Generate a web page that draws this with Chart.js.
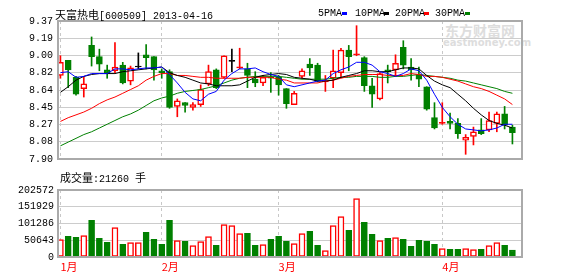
<!DOCTYPE html>
<html>
<head>
<meta charset="utf-8">
<script src="https://cdn.jsdelivr.net/npm/chart.js@4"></script>
<style>
  body { margin: 0; background: #fff; }
  #wrap { position: relative; width: 578px; height: 276px; overflow: hidden; }
  .txt { position: absolute; white-space: nowrap; line-height: 12px; color: #000; }
  .cjk { font-family: "Noto Sans CJK SC", sans-serif; font-size: 11px; }
  .mono { font-family: "Liberation Mono", monospace; font-size: 10px; }
  .mk { position: absolute; width: 5px; height: 3px; }
  .wm { position: absolute; color: #dddddd; font-weight: bold; white-space: nowrap; }
  canvas { position: absolute; left: 0; }
</style>
</head>
<body>
<div id="wrap">
  <div class="wm" style="left:445px; top:22px; font-family:'Noto Sans CJK SC'; font-size:14px; line-height:16px;">东方财富网</div>
  <div class="wm" style="left:443px; top:37px; font-family:'DejaVu Sans'; font-size:10px; line-height:11px;">eastmoney.com</div>

  <canvas id="priceChart" width="578" height="170" style="top:0"></canvas>
  <canvas id="volChart" width="578" height="106" style="top:170px"></canvas>

  <div class="txt" style="left:55px; top:8px;"><span class="cjk">天富热电</span><span class="mono">[600509] 2013-04-16</span></div>

  <div class="txt mono" style="left:318px; top:8px;">5PMA</div><div class="mk" style="left:342px; top:12px; background:#0000ff"></div>
  <div class="txt mono" style="left:355px; top:8px;">10PMA</div><div class="mk" style="left:384px; top:12px; background:#000"></div>
  <div class="txt mono" style="left:395px; top:8px;">20PMA</div><div class="mk" style="left:424px; top:12px; background:#ff0000"></div>
  <div class="txt mono" style="left:435px; top:8px;">30PMA</div><div class="mk" style="left:465px; top:12px; background:#008000"></div>

  <div class="txt" style="left:60px; top:171px;"><span class="cjk">成交量</span><span class="mono">:21260 </span><span class="cjk">手</span></div>
</div>

<script>
const opens  = [8.79, 8.95, 8.77, 8.65, 9.11, 8.99, 8.85, 8.84, 8.90, 8.73, 8.88, 9.01, 8.99, 8.84, 8.83,
                8.46, 8.50, 8.45, 8.48, 8.70, 8.85, 8.77, 8.94, 8.87, 8.86, 8.75, 8.71, 8.77, 8.77, 8.65,
                8.48, 8.78, 8.91, 8.90, 8.72, 8.76, 8.82, 9.06, 9.01, 8.98, 8.68, 8.54, 8.85, 8.85, 9.09,
                8.88, 8.80, 8.67, 8.34, 8.28, 8.30, 8.28, 8.10, 8.14, 8.21, 8.21, 8.28, 8.38, 8.24];
const highs  = [9.00, 8.95, 8.78, 8.78, 9.20, 9.07, 8.90, 9.14, 8.93, 8.89, 9.03, 9.12, 8.99, 8.86, 8.85,
                8.54, 8.50, 8.50, 8.69, 8.90, 8.86, 9.00, 9.07, 9.08, 8.92, 8.83, 8.79, 8.82, 8.79, 8.65,
                8.62, 8.86, 8.97, 8.92, 8.79, 9.06, 9.08, 9.11, 9.32, 8.99, 8.76, 8.82, 8.90, 9.01, 9.16,
                8.97, 8.88, 8.67, 8.50, 8.50, 8.39, 8.33, 8.16, 8.24, 8.33, 8.40, 8.40, 8.46, 8.26];
const lows   = [8.76, 8.66, 8.58, 8.56, 8.89, 8.84, 8.76, 8.82, 8.70, 8.69, 8.86, 8.86, 8.74, 8.76, 8.44,
                8.35, 8.40, 8.42, 8.46, 8.68, 8.65, 8.76, 8.83, 8.86, 8.66, 8.67, 8.68, 8.61, 8.58, 8.44,
                8.48, 8.76, 8.79, 8.72, 8.62, 8.66, 8.77, 8.84, 9.00, 8.62, 8.45, 8.53, 8.71, 8.78, 8.86,
                8.74, 8.67, 8.42, 8.22, 8.27, 8.22, 8.12, 7.95, 8.05, 8.16, 8.19, 8.19, 8.22, 8.06];
const closes = [8.93, 8.85, 8.59, 8.70, 8.99, 8.91, 8.82, 8.88, 8.71, 8.87, 8.88, 8.98, 8.85, 8.82, 8.45,
                8.52, 8.47, 8.48, 8.64, 8.83, 8.66, 9.00, 8.94, 8.88, 8.79, 8.71, 8.77, 8.76, 8.69, 8.49,
                8.60, 8.84, 8.87, 8.73, 8.73, 8.84, 9.06, 8.99, 9.02, 8.68, 8.59, 8.81, 8.83, 8.92, 8.90,
                8.85, 8.75, 8.43, 8.23, 8.29, 8.28, 8.17, 8.13, 8.19, 8.17, 8.31, 8.38, 8.26, 8.18];
const volumes = [52400, 62500, 59500, 64500, 110900, 56400, 44300, 88700, 38300, 43300, 43300, 74600, 53400, 38300, 110900,
                 49400, 47400, 34300, 46400, 61500, 35300, 97800, 94700, 70500, 71600, 35300, 37300, 53400, 62500, 47400,
                 40300, 70500, 77600, 35300, 19100, 94700, 121900, 80600, 176400, 104800, 68500, 49400, 56400, 58500, 53400,
                 32300, 50400, 47400, 38300, 25200, 23200, 23200, 25200, 22200, 23200, 34300, 43300, 35300, 21260];

const ma5  = [8.82, 8.83, 8.77, 8.78, 8.81, 8.81, 8.81, 8.86, 8.86, 8.85, 8.86, 8.87, 8.87, 8.88, 8.80,
              8.71, 8.61, 8.54, 8.52, 8.59, 8.62, 8.74, 8.81, 8.86, 8.86, 8.87, 8.83, 8.80, 8.78, 8.69,
              8.67, 8.69, 8.71, 8.73, 8.74, 8.81, 8.85, 8.88, 8.93, 8.93, 8.90, 8.83, 8.81, 8.78, 8.81,
              8.86, 8.84, 8.74, 8.59, 8.45, 8.35, 8.27, 8.22, 8.21, 8.20, 8.21, 8.23, 8.27, 8.27];
const ma10 = [8.61, 8.67, 8.74, 8.78, 8.80, 8.81, 8.81, 8.81, 8.83, 8.84, 8.85, 8.86, 8.87, 8.88, 8.82,
              8.79, 8.77, 8.74, 8.71, 8.70, 8.68, 8.68, 8.68, 8.69, 8.73, 8.77, 8.79, 8.80, 8.81, 8.80,
              8.77, 8.76, 8.75, 8.73, 8.73, 8.74, 8.77, 8.79, 8.81, 8.84, 8.84, 8.83, 8.83, 8.85, 8.87,
              8.87, 8.86, 8.79, 8.73, 8.69, 8.66, 8.59, 8.52, 8.44, 8.37, 8.31, 8.28, 8.26, 8.23];
const ma20 = [8.30, 8.34, 8.37, 8.40, 8.44, 8.49, 8.53, 8.56, 8.60, 8.64, 8.68, 8.74, 8.78, 8.81, 8.81,
              8.79, 8.79, 8.78, 8.77, 8.77, 8.76, 8.76, 8.76, 8.76, 8.77, 8.77, 8.77, 8.77, 8.75, 8.74,
              8.71, 8.71, 8.71, 8.71, 8.73, 8.74, 8.76, 8.78, 8.79, 8.80, 8.80, 8.80, 8.79, 8.79, 8.79,
              8.81, 8.80, 8.78, 8.78, 8.77, 8.75, 8.73, 8.70, 8.67, 8.65, 8.62, 8.58, 8.54, 8.48];
const ma30 = [8.04, 8.08, 8.12, 8.16, 8.19, 8.23, 8.27, 8.31, 8.35, 8.38, 8.42, 8.47, 8.52, 8.55, 8.57,
              8.60, 8.62, 8.63, 8.64, 8.66, 8.68, 8.71, 8.74, 8.76, 8.77, 8.78, 8.78, 8.78, 8.78, 8.77,
              8.76, 8.75, 8.75, 8.75, 8.75, 8.76, 8.77, 8.77, 8.78, 8.78, 8.78, 8.77, 8.77, 8.78, 8.78,
              8.79, 8.80, 8.79, 8.78, 8.77, 8.76, 8.74, 8.73, 8.71, 8.69, 8.67, 8.65, 8.62, 8.60];

const priceTicks = ['7.90', '8.08', '8.27', '8.45', '8.64', '8.82', '9.00', '9.19', '9.37'];
const volTicks = ['0', '50643', '101286', '151929', '202572'];
const monthLabels = ['1月', '2月', '3月', '4月'];
const monthStart = [0, 13, 28, 49];

const RED = '#ff0000';
const GREEN = '#008000';
const X_MIN = -0.31, X_MAX = 59.23;
const idx = closes.map((c, i) => i);

function candleColor(i) {
    if (closes[i] === opens[i]) return '#000000';
    return closes[i] > opens[i] ? RED : GREEN;
}
function bodyFill(i) {
    if (closes[i] - opens[i] > 0.015) return '#ffffff';
    return candleColor(i);
}
function isUp(i) { return closes[i] >= opens[i]; }

// grey box round the plot area
const frame = {
    id: 'frame',
    afterDraw(chart) {
        const { ctx, chartArea: a } = chart;
        ctx.save();
        ctx.strokeStyle = '#aaaaaa';
        ctx.lineWidth = 2;
        ctx.strokeRect(a.left, a.top, a.right - a.left, a.bottom - a.top);
        ctx.restore();
    }
};

const tickFont = { family: 'Liberation Mono', size: 10 };

function monthAxis(showLabels, height) {
    return {
        type: 'linear',
        min: X_MIN,
        max: X_MAX,
        offset: false,
        afterFit: s => { s.height = height; },
        afterBuildTicks: s => { s.ticks = monthStart.map(v => ({ value: v })); },
        ticks: {
            display: showLabels,
            callback: (v, k) => monthLabels[k],
            color: RED,
            align: 'start',
            padding: 3,
            maxRotation: 0,
            autoSkip: false,
            font: { family: 'Noto Sans CJK SC', size: 11 }
        },
        grid: { color: '#c8c8c8', drawTicks: false, offset: false },
        border: { display: false, dash: [3, 3] }
    };
}

function maLine(values, color) {
    return {
        type: 'line',
        data: idx.map(i => ({ x: i, y: values[i] })),
        borderColor: color,
        borderWidth: 1,
        pointRadius: 0,
        tension: 0,
        order: 0
    };
}

new Chart(document.getElementById('priceChart').getContext('2d'), {
    type: 'bar',
    data: {
        datasets: [
            maLine(ma5, '#0000ff'),
            maLine(ma10, '#000000'),
            maLine(ma20, RED),
            maLine(ma30, GREEN),
            {
                data: idx.map(i => ({ x: i, y: [opens[i], closes[i]] })),
                backgroundColor: idx.map(bodyFill),
                borderColor: idx.map(candleColor),
                borderWidth: 1.5,
                borderSkipped: false,
                barThickness: 6,
                minBarLength: 1,
                grouped: false,
                order: 1
            },
            {
                data: idx.map(i => ({ x: i, y: [lows[i], highs[i]] })),
                backgroundColor: idx.map(candleColor),
                borderWidth: 0,
                barThickness: 1,
                grouped: false,
                order: 2
            }
        ]
    },
    options: {
        responsive: false,
        animation: false,
        devicePixelRatio: 1,
        layout: { padding: { left: 0, right: 56, top: 21, bottom: 4 } },
        plugins: { legend: { display: false }, tooltip: { enabled: false } },
        scales: {
            x: monthAxis(false, 0),
            y: {
                min: 7.90,
                max: 9.37,
                afterFit: s => { s.width = 58; },
                afterBuildTicks: s => {
                    s.ticks = priceTicks.map((t, k) => ({ value: 7.90 + k * (9.37 - 7.90) / 8 }));
                },
                ticks: { callback: (v, k) => priceTicks[k], color: '#000', padding: 5, font: tickFont },
                grid: { color: '#cccccc', drawTicks: false },
                border: { display: false }
            }
        }
    },
    plugins: [frame]
});

new Chart(document.getElementById('volChart').getContext('2d'), {
    type: 'bar',
    data: {
        datasets: [{
            data: idx.map(i => ({ x: i, y: volumes[i] })),
            backgroundColor: idx.map(i => isUp(i) ? '#ffffff' : GREEN),
            borderColor: idx.map(i => isUp(i) ? RED : GREEN),
            borderWidth: 1.5,
            borderSkipped: false,
            barThickness: 6,
            grouped: false
        }]
    },
    options: {
        responsive: false,
        animation: false,
        devicePixelRatio: 1,
        layout: { padding: { left: 0, right: 56, top: 20, bottom: 0 } },
        plugins: { legend: { display: false }, tooltip: { enabled: false } },
        scales: {
            x: monthAxis(true, 19),
            y: {
                min: 0,
                max: 202572,
                afterFit: s => { s.width = 58; },
                afterBuildTicks: s => { s.ticks = volTicks.map((t, k) => ({ value: k * 50643 })); },
                ticks: { callback: (v, k) => volTicks[k], color: '#000', padding: 4, font: tickFont },
                grid: { color: '#cccccc', drawTicks: false },
                border: { display: false }
            }
        }
    },
    plugins: [frame]
});
</script>
</body>
</html>
